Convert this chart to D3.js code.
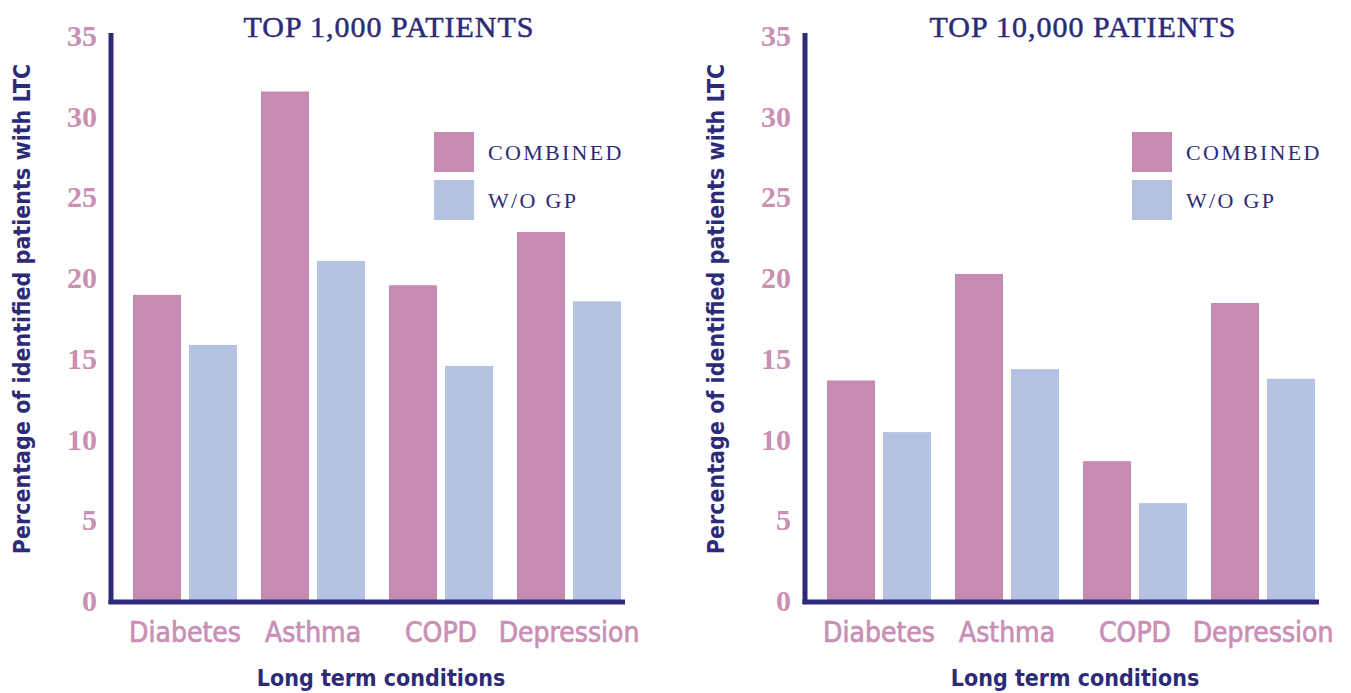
<!DOCTYPE html>
<html><head><meta charset="utf-8">
<script src="https://cdn.jsdelivr.net/npm/d3@7"></script>
<style>
body{margin:0;background:#fff;}
svg{display:block;}
</style></head><body>
<svg id="c" width="1351" height="693"></svg>
<script>
const categories = ["Diabetes", "Asthma", "COPD", "Depression"];
const seriesNames = ["COMBINED", "W/O GP"];
const top1000Combined = [18.9, 31.5, 19.5, 22.8];
const top1000WithoutGP = [15.8, 21.0, 14.5, 18.5];
const top10000Combined = [13.6, 20.2, 8.6, 18.4];
const top10000WithoutGP = [10.4, 14.3, 6.0, 13.7];
const yTicks = [0, 5, 10, 15, 20, 25, 30, 35];
const titles = ["TOP 1,000 PATIENTS", "TOP 10,000 PATIENTS"];

const NAVY = "#2d2a77", PINK = "#c58bb0", BLUE = "#b5c1e0", TICKPINK = "#c98fb5";
const svg = d3.select("#c");
const SANS = "'Liberation Sans Narrow','DejaVu Sans Condensed','Roboto Condensed',sans-serif";
const SERIF = "'Liberation Serif','DejaVu Serif',serif";

const panels = [
  {off: 0, title: titles[0], a: top1000Combined, b: top1000WithoutGP, legendX: 434},
  {off: 694, title: titles[1], a: top10000Combined, b: top10000WithoutGP, legendX: 1132}
];

panels.forEach(p => {
  const g = svg.append("g").attr("transform", `translate(${p.off},0)`);
  const y = d3.scaleLinear().domain([0, 35]).range([600, 35]);
  const x0 = d3.scaleBand().domain(categories).range([121, 633]).paddingInner(0.1875).paddingOuter(0.09375);
  const x1 = d3.scaleBand().domain(seriesNames).range([0, x0.bandwidth()]).paddingInner(8/56).paddingOuter(0);
  const color = d3.scaleOrdinal().domain(seriesNames).range([PINK, BLUE]);

  const rows = categories.map((c, i) => ({cat: c, vals: [{s: seriesNames[0], v: p.a[i]}, {s: seriesNames[1], v: p.b[i]}]}));
  g.selectAll("g.grp").data(rows).join("g").attr("class", "grp")
    .attr("transform", d => `translate(${x0(d.cat)},0)`)
    .selectAll("rect").data(d => d.vals).join("rect")
    .attr("x", d => x1(d.s)).attr("width", x1.bandwidth())
    .attr("y", d => y(d.v)).attr("height", d => y(0) - y(d.v) + 1)
    .attr("fill", d => color(d.s));

  // y axis
  const ya = g.append("g").attr("transform", "translate(111,0)")
    .call(d3.axisLeft(y).tickValues(yTicks).tickSize(0).tickPadding(14));
  ya.select(".domain").remove();
  ya.selectAll("text").attr("fill", TICKPINK).attr("font-family", SERIF)
    .attr("font-weight", "bold").attr("font-size", 30).attr("dy", "0.35em");
  g.append("line").attr("x1", 111).attr("x2", 111).attr("y1", 33).attr("y2", 604)
    .attr("stroke", NAVY).attr("stroke-width", 5);

  // x axis
  const xa = g.append("g").attr("transform", "translate(0,602)")
    .call(d3.axisBottom(x0).tickSize(0).tickPadding(30));
  xa.select(".domain").remove();
  xa.selectAll("text").attr("fill", TICKPINK).attr("stroke", TICKPINK).attr("stroke-width", 0.7)
    .attr("font-family", SANS)
    .attr("font-size", 28).attr("dy", "0.35em").attr("y", 30);
  g.append("line").attr("x1", 108.5).attr("x2", 625).attr("y1", 602).attr("y2", 602)
    .attr("stroke", NAVY).attr("stroke-width", 5);

  // titles
  g.append("text").attr("x", 389).attr("y", 37).attr("text-anchor", "middle")
    .attr("fill", NAVY).attr("stroke", NAVY).attr("stroke-width", 0.5)
    .attr("font-family", SERIF).attr("font-size", 30).attr("letter-spacing", 1)
    .text(p.title);
  g.append("text").attr("x", 381).attr("y", 686).attr("text-anchor", "middle")
    .attr("fill", NAVY).attr("font-family", SANS).attr("font-weight", "bold").attr("font-size", 23)
    .text("Long term conditions");
  g.append("text").attr("transform", "translate(30,309) rotate(-90)").attr("text-anchor", "middle")
    .attr("fill", NAVY).attr("font-family", SANS).attr("font-weight", "bold").attr("font-size", 23)
    .text("Percentage of identified patients with LTC");

  // legend
  const lg = svg.append("g").attr("transform", `translate(${p.legendX},132)`);
  seriesNames.forEach((s, i) => {
    lg.append("rect").attr("x", 0).attr("y", i * 48).attr("width", 40).attr("height", 40).attr("fill", color(s));
    lg.append("text").attr("x", 54).attr("y", i * 48 + 20).attr("dy", "0.35em")
      .attr("fill", NAVY).attr("font-family", SERIF).attr("font-size", 22).attr("letter-spacing", 2.3).text(s);
  });
});
</script>
</body></html>
